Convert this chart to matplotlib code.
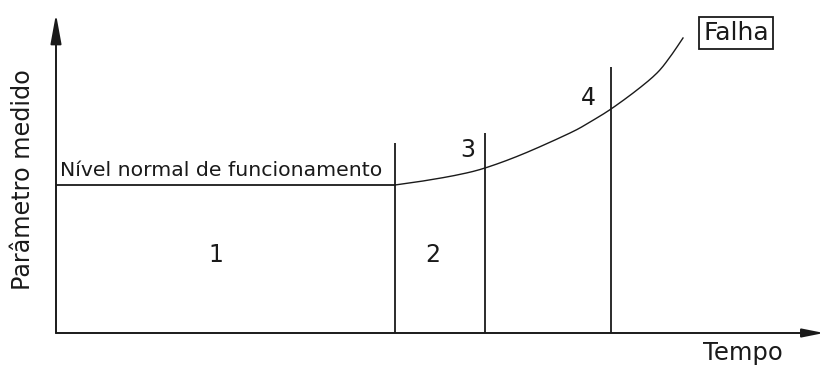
import matplotlib
matplotlib.use("Agg")
import matplotlib.pyplot as plt
import numpy as np

# ---- data (schematic units: time vs measured parameter) ----
normal_level = 148
normal_start, normal_end = 0, 339
phase_bounds = [339, 429, 555]          # time of the phase boundaries
phase_tops = [190, 200, 266]            # height of each boundary line
curve_t = [339, 367, 401, 429, 467, 514, 534, 555, 581, 601, 614, 627]
curve_p = [148, 152, 158, 165, 179, 200, 211, 224, 243, 260, 276, 295]
phase_labels = ["1", "2", "3", "4"]
phase_label_t = [160, 377, 412, 532]
phase_label_p = [78, 78, 183, 235]
x_max, y_max = 768, 319


def catmull_rom(x, y, n=12):
    """Smooth curve passing through the given points (for drawing only)."""
    pts = np.column_stack([x, y]).astype(float)
    pts = np.vstack([pts[0], pts, pts[-1]])
    out = []
    for i in range(1, len(pts) - 2):
        p0, p1, p2, p3 = pts[i - 1], pts[i], pts[i + 1], pts[i + 2]
        for s in np.linspace(0, 1, n, endpoint=False):
            out.append(0.5 * ((2 * p1) + (-p0 + p2) * s
                              + (2 * p0 - 5 * p1 + 4 * p2 - p3) * s ** 2
                              + (-p0 + 3 * p1 - 3 * p2 + p3) * s ** 3))
    out.append(pts[-2])
    out = np.array(out)
    return out[:, 0], out[:, 1]


W, H = 824, 365
fig = plt.figure(figsize=(W / 100, H / 100), dpi=100)
ax = fig.add_axes([56 / W, (H - 333) / H, (W - 56) / W, (333 - 14) / H])
ax.set_xlim(0, x_max)
ax.set_ylim(0, y_max)
ax.axis("off")

lc = "#1a1a1a"
font = "DejaVu Sans"

# axes with arrows
ax.annotate("", xy=(x_max, 0), xytext=(0, 0),
            arrowprops=dict(arrowstyle="-|>,head_length=13,head_width=2.6",
                            mutation_scale=1, lw=1.4, color=lc,
                            shrinkA=0, shrinkB=0), annotation_clip=False)
ax.annotate("", xy=(0, y_max), xytext=(0, 0),
            arrowprops=dict(arrowstyle="-|>,head_length=18,head_width=3.3",
                            mutation_scale=1, lw=1.4, color=lc,
                            shrinkA=0, shrinkB=0), annotation_clip=False)

# normal level
ax.plot([normal_start, normal_end], [normal_level, normal_level], color=lc, lw=1.3)
# phase boundaries
ax.vlines(phase_bounds, 0, phase_tops, color=lc, lw=1.3)
# degradation curve
sx, sy = catmull_rom(curve_t, curve_p)
ax.plot(sx, sy, color=lc, lw=1.0)

for lab, t, p in zip(phase_labels, phase_label_t, phase_label_p):
    ax.text(t, p, lab, fontsize=17, family=font, color=lc, ha="center", va="center")

ax.text(4, 157, "Nível normal de funcionamento", fontsize=14.7, family=font,
        color=lc, ha="left", va="baseline")

ax.text(680, 300, "Falha", fontsize=18, family=font, color=lc, ha="center",
        va="center",
        bbox=dict(boxstyle="square,pad=0.15", fc="white", ec=lc, lw=1.3))

fig.text(743 / W, 1 - 360 / H, "Tempo", fontsize=17.5, family=font, color=lc,
         ha="center", va="baseline")
fig.text(23 / W, 1 - 180 / H, "Parâmetro medido", fontsize=17.2, family=font,
         color=lc, ha="center", va="center", rotation=90)

fig.savefig("out.png", dpi=100)
